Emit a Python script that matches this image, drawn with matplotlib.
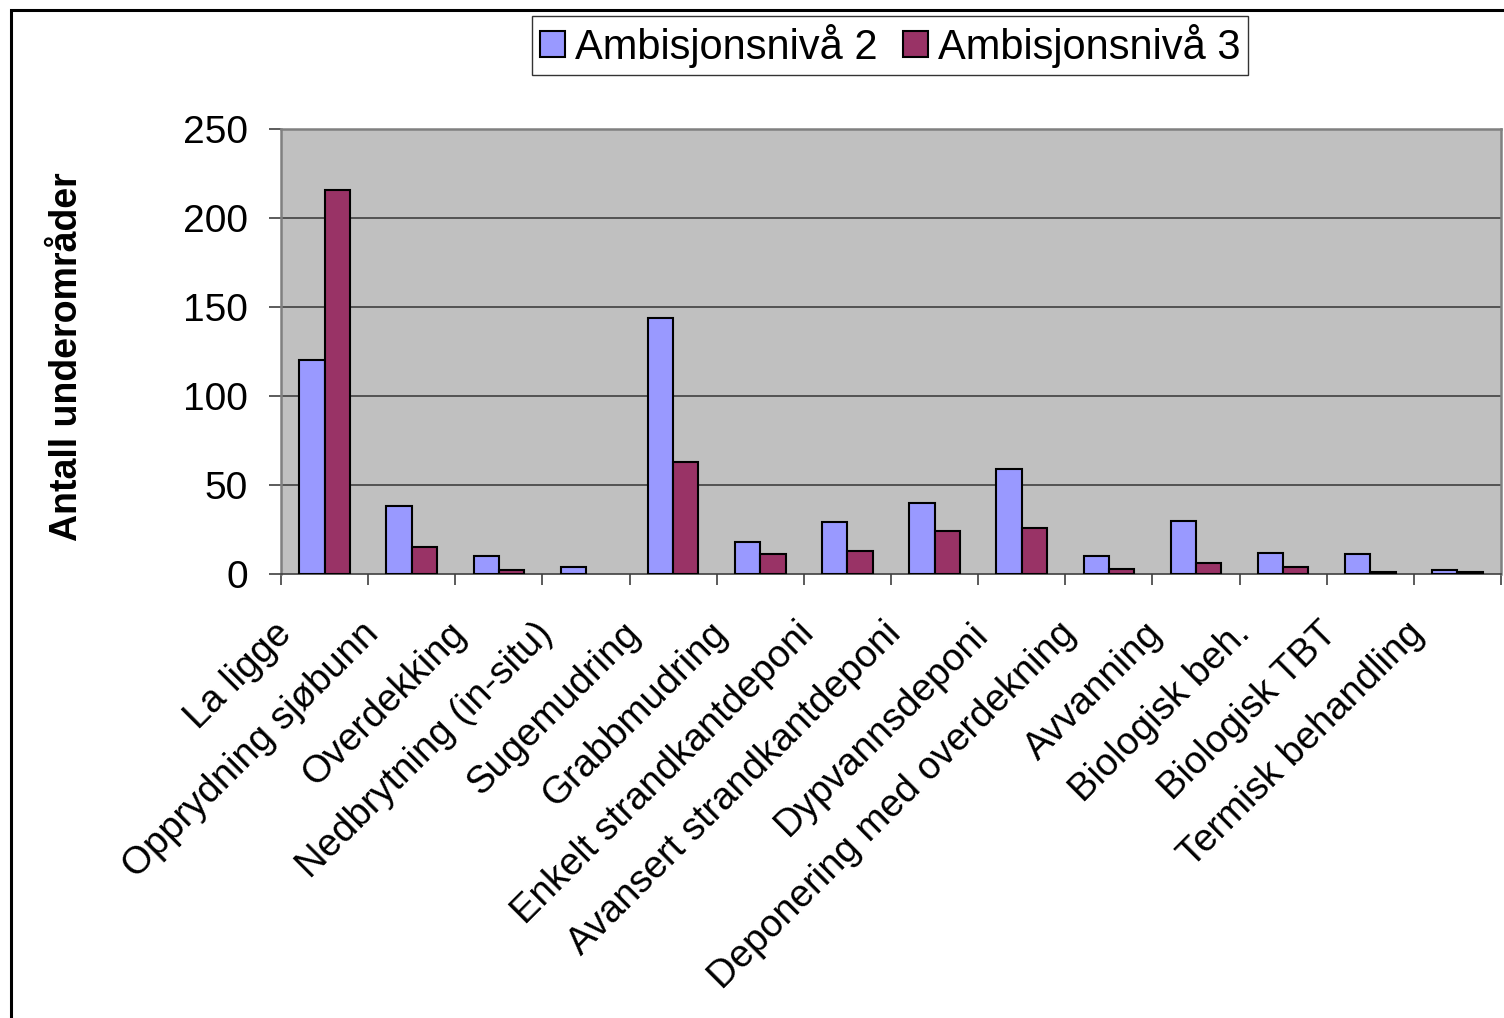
import numpy as np
import matplotlib
matplotlib.use("Agg")
import matplotlib.pyplot as plt
from matplotlib.patches import Rectangle

plt.rcParams['font.family'] = ['Liberation Sans', 'DejaVu Sans']

# ------------------------------------------------------------------
# Data: number of sub-areas per remediation method, two ambition levels
# ------------------------------------------------------------------
categories = [
    'La ligge', 'Opprydning sjøbunn', 'Overdekking', 'Nedbrytning (in-situ)',
    'Sugemudring', 'Grabbmudring', 'Enkelt strandkantdeponi',
    'Avansert strandkantdeponi', 'Dypvannsdeponi',
    'Deponering med overdekning', 'Avvanning', 'Biologisk beh.',
    'Biologisk TBT', 'Termisk behandling',
]
niva2 = [120, 38, 10, 4, 144, 18, 29, 40, 59, 10, 30, 12, 11, 2]
niva3 = [216, 15, 2, 0, 63, 11, 13, 24, 26, 3, 6, 4, 1, 1]
series_names = ['Ambisjonsnivå 2', 'Ambisjonsnivå 3']
yticks = [0, 50, 100, 150, 200, 250]

C2 = '#9999FF'
C3 = '#993366'

W, H = 1504, 1018
fig = plt.figure(figsize=(W / 100, H / 100), dpi=100)
ax = fig.add_axes([281 / W, 1 - 574 / H, 1220 / W, 445 / H])

x = np.arange(len(categories))
bw = 0.29
b2 = ax.bar(x - bw / 2, niva2, bw, color=C2, edgecolor='black', lw=1.5,
            label=series_names[0], zorder=3)
b3 = ax.bar(x + bw / 2, niva3, bw, color=C3, edgecolor='black', lw=1.5,
            label=series_names[1], zorder=3)
# empty bars get no outline
for p in list(b2) + list(b3):
    if p.get_height() == 0:
        p.set_linewidth(0)

ax.set_facecolor('#C0C0C0')
ax.set_xlim(-0.5, len(categories) - 0.5)
ax.set_ylim(0, 250)
ax.set_yticks(yticks)
ax.set_yticklabels([str(v) for v in yticks], fontsize=28)
ax.tick_params(axis='y', length=9, width=1.2, color='#404040', pad=15)
for v in yticks[1:-1]:
    ax.axhline(v, color='#404040', lw=1.2, zorder=1)

# category ticks sit between the groups
ax.set_xticks(np.arange(-0.5, len(categories)))
ax.set_xticklabels([])
ax.tick_params(axis='x', length=8, width=1.2, color='#404040')

for s in ('top', 'right', 'left'):
    ax.spines[s].set_color('#808080')
    ax.spines[s].set_linewidth(1.8)
ax.spines['bottom'].set_color('#404040')
ax.spines['bottom'].set_linewidth(1.2)

# rotated category labels, right end just below/left of each group
for i, lab in enumerate(categories):
    ax.annotate(lab, xy=(i, 0), xycoords=('data', 'axes fraction'),
                xytext=(-28, -39), textcoords='offset points',
                rotation=45, rotation_mode='anchor', ha='right', va='center',
                fontsize=27.5)

ax.set_ylabel('Antall underområder', fontsize=27, fontweight='bold')
ax.yaxis.set_label_coords(85 / W, 1 - 357 / H, transform=fig.transFigure)

leg = fig.legend(handles=[b2, b3], loc='upper center',
                 bbox_to_anchor=(890 / W, 1 - 16 / H), ncol=2, fontsize=30,
                 frameon=True, fancybox=False, shadow=False,
                 edgecolor='black', handlelength=0.6, handleheight=0.6,
                 handletextpad=0.25, columnspacing=0.6, borderpad=0.18,
                 borderaxespad=0)
leg.get_frame().set_linewidth(1.0)

# outer chart frame
fig.patches.append(Rectangle((11 / W, -0.1), 1.2, 0.1 + 1 - 10 / H,
                             transform=fig.transFigure, fill=False,
                             edgecolor='black', lw=2.2))

fig.savefig('out.png', dpi=100)
